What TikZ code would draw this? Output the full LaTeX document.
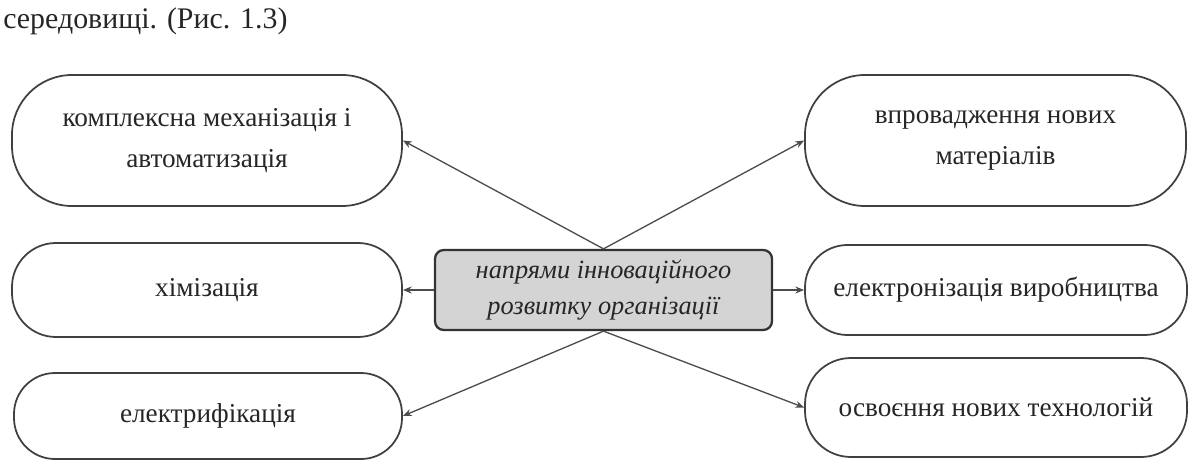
\documentclass[tikz,border=0pt]{standalone}
\usepackage{fontspec}
\setmainfont{Liberation Serif}
\usetikzlibrary{arrows.meta}

\tikzset{
    pill/.style={draw=black!75, line width=1pt, align=center, text=black!85,
        font=\fontsize{15.5}{23}\selectfont, inner sep=2pt},
    hub/.style={draw=black!80, fill=black!17, line width=1.3pt, rounded corners=5pt,
        align=center, text=black!85, font=\fontsize{15}{20}\selectfont\itshape},
    link/.style={-{Stealth[length=5pt,width=4pt]}, line width=0.75pt, draw=black!70}
}

\begin{document}
\begin{tikzpicture}
    \useasboundingbox (0,0) rectangle (23.76,-9.24);

    % Caption line
    \node[anchor=base west, font=\fontsize{17}{21}\selectfont, text=black!85, inner sep=0pt]
        (caption) at (0.06,-0.58) {середовищі. (Рис. 1.3)};

    % Centre block
    \node[hub, minimum width=6.74cm, minimum height=1.6cm] (hub) at (12.07,-5.8)
        {напрями інноваційного\\розвитку організації};

    % Left column
    \node[pill, minimum width=7.8cm, minimum height=2.62cm, rounded corners=1.2cm]
        (mech) at (4.14,-2.81) {комплексна механізація і\\автоматизація};
    \node[pill, minimum width=7.8cm, minimum height=1.88cm, rounded corners=0.88cm]
        (chem) at (4.14,-5.8) {хімізація};
    \node[pill, minimum width=7.76cm, minimum height=1.72cm, rounded corners=0.82cm]
        (elec) at (4.16,-8.32) {електрифікація};

    % Right column
    \node[pill, minimum width=7.62cm, minimum height=2.62cm, rounded corners=1.2cm]
        (mat) at (19.91,-2.81) {впровадження нових\\матеріалів};
    \node[pill, minimum width=7.64cm, minimum height=1.8cm, rounded corners=0.85cm]
        (tron) at (19.92,-5.8) {електронізація виробництва};
    \node[pill, minimum width=7.64cm, minimum height=1.98cm, rounded corners=0.92cm]
        (tech) at (19.92,-8.15) {освоєння нових технологій};

    % Links
    \draw[link] (hub.north) -- (mech.east);
    \draw[link] (hub.north) -- (mat.west);
    \draw[link] (hub.west) -- (chem.east);
    \draw[link] (hub.east) -- (tron.west);
    \draw[link] (hub.south) -- (elec.east);
    \draw[link] (hub.south) -- (tech.west);
\end{tikzpicture}
\end{document}
